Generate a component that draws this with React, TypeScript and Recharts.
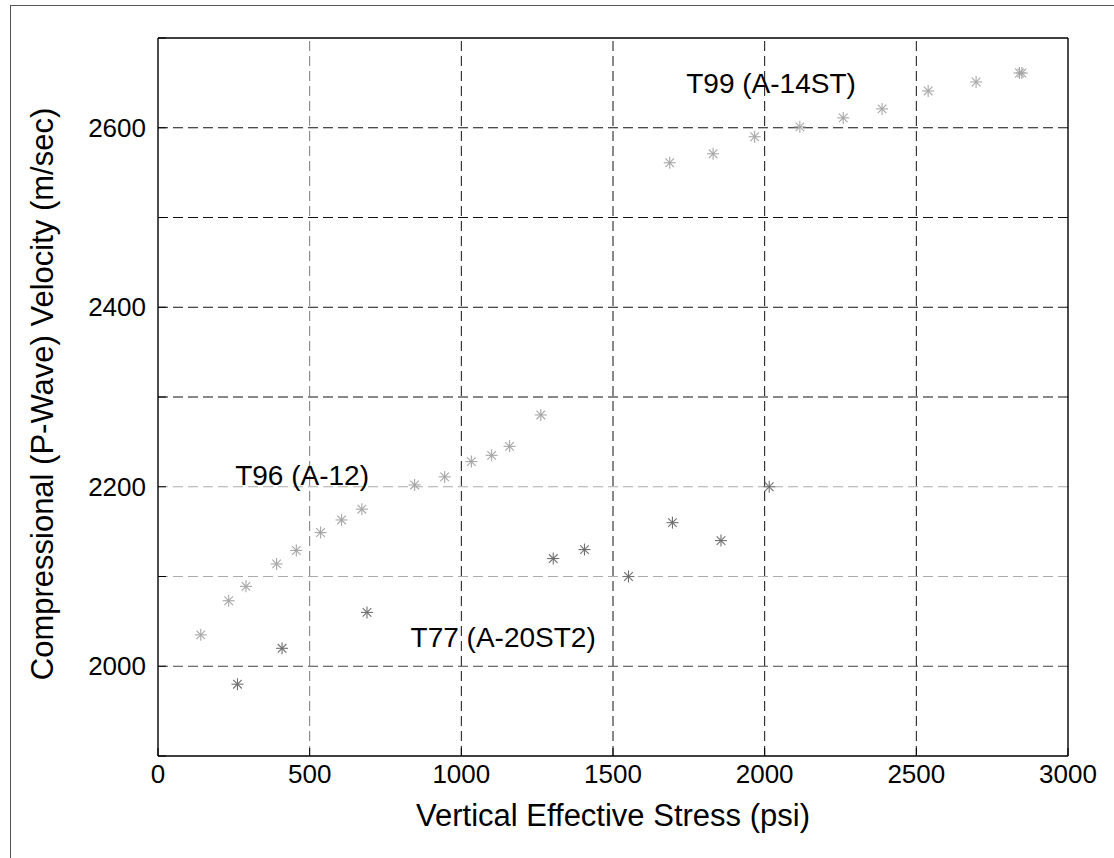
import React from 'react';
import {
    ScatterChart,
    Scatter,
    XAxis,
    YAxis,
    ReferenceLine,
    ReferenceDot,
} from 'recharts';

// T96 (A-12)
const t96Stress = [141, 233, 290, 391, 456, 536, 605, 672, 846, 945, 1033, 1100, 1159, 1262];
const t96Velocity = [2035, 2073, 2089, 2114, 2129, 2149, 2163, 2175, 2202, 2211, 2228, 2235, 2245, 2280];

// T77 (A-20ST2)
const t77Stress = [262, 409, 689, 1303, 1406, 1551, 1696, 1856, 2015];
const t77Velocity = [1980, 2020, 2060, 2120, 2130, 2100, 2160, 2140, 2200];

// T99 (A-14ST)
const t99Stress = [1687, 1830, 1967, 2116, 2259, 2387, 2539, 2697, 2840, 2848];
const t99Velocity = [2561, 2571, 2590, 2601, 2611, 2621, 2641, 2651, 2661, 2661];

const xTicks = [0, 500, 1000, 1500, 2000, 2500, 3000];
const yTicks = [1900, 2000, 2100, 2200, 2300, 2400, 2500, 2600, 2700];
const yLabelStep = 200;

const xGridLight = [500];
const xGridDark = [1000, 1500, 2000, 2500];
const yGridLight = [2100, 2200];
const yGridDark = [2000, 2300, 2400, 2500, 2600];

const FONT = '"Liberation Sans", Arial, Helvetica, sans-serif';
const LIGHT = '#a6a6a6';
const DARK = '#707070';

const toPoints = (xs: number[], ys: number[]) => xs.map((x, i) => ({ x, y: ys[i] }));

const Asterisk = (props: any) => {
    const { cx, cy, stroke } = props;
    if (cx == null || cy == null) return null;
    const r = 6;
    const d = 4.3;
    return (
        <g stroke={stroke} strokeWidth={1.1}>
            <line x1={cx - r} y1={cy} x2={cx + r} y2={cy} />
            <line x1={cx} y1={cy - r} x2={cx} y2={cy + r} />
            <line x1={cx - d} y1={cy - d} x2={cx + d} y2={cy + d} />
            <line x1={cx - d} y1={cy + d} x2={cx + d} y2={cy - d} />
        </g>
    );
};

const YTick = (props: any) => {
    const { x, y, payload } = props;
    if (payload.value % yLabelStep !== 0) return null;
    return (
        <text x={x} y={y} textAnchor="end" dominantBaseline="central" fontSize={26} fontFamily={FONT} fill="#000">
            {payload.value}
        </text>
    );
};

const YTitle = (props: any) => {
    const { viewBox } = props;
    const cy = viewBox.y + viewBox.height / 2 - 3;
    return (
        <text x={53} y={cy} transform={`rotate(-90 53 ${cy})`} textAnchor="middle" fontSize={31} fontFamily={FONT} fill="#000">
            Compressional (P-Wave) Velocity (m/sec)
        </text>
    );
};

const XTitle = (props: any) => {
    const { viewBox } = props;
    const cx = viewBox.x + viewBox.width / 2;
    return (
        <text x={cx} y={826} textAnchor="middle" fontSize={31} fontFamily={FONT} fill="#000">
            Vertical Effective Stress (psi)
        </text>
    );
};

const annotations = [
    { x: 2021, y: 2650, text: 'T99 (A-14ST)' },
    { x: 475, y: 2213, text: 'T96 (A-12)' },
    { x: 1138, y: 2033, text: 'T77 (A-20ST2)' },
];

export default function App() {
    const axisLine = { stroke: '#000', strokeWidth: 1.4 };
    const tickLine = { stroke: '#000', strokeWidth: 1 };
    return (
        <div style={{ position: 'absolute', left: 0, top: 0, width: 1114, height: 858, background: '#fff' }}>
            <div
                style={{
                    position: 'absolute',
                    left: 10,
                    top: 5,
                    width: 1104,
                    height: 853,
                    borderLeft: '1px solid #555',
                    borderTop: '1px solid #555',
                    boxSizing: 'border-box',
                }}
            />
            <ScatterChart width={1114} height={858} margin={{ top: 37, right: 45, left: 0, bottom: 0 }}>
                {xGridLight.map((v) => (
                    <ReferenceLine key={`xl-${v}`} x={v} stroke="#7a7a7a" strokeDasharray="10 5" />
                ))}
                {xGridDark.map((v) => (
                    <ReferenceLine key={`xd-${v}`} x={v} stroke="#111" strokeDasharray="10 5" />
                ))}
                {yGridLight.map((v) => (
                    <ReferenceLine key={`yl-${v}`} y={v} stroke="#ababab" strokeDasharray="10 5" />
                ))}
                {yGridDark.map((v) => (
                    <ReferenceLine key={`yd-${v}`} y={v} stroke={v === 2000 ? '#444' : '#111'} strokeDasharray="10 5" />
                ))}
                <XAxis
                    type="number"
                    dataKey="x"
                    domain={[0, 3000]}
                    ticks={xTicks}
                    height={102}
                    tickSize={-8}
                    tickMargin={17}
                    axisLine={axisLine}
                    tickLine={tickLine}
                    tick={{ fontSize: 26, fill: '#000', fontFamily: FONT }}
                    label={{ content: <XTitle /> }}
                />
                <XAxis
                    xAxisId="top"
                    orientation="top"
                    type="number"
                    domain={[0, 3000]}
                    ticks={xTicks}
                    height={1}
                    tickSize={-8}
                    axisLine={axisLine}
                    tickLine={tickLine}
                    tick={false}
                />
                <YAxis
                    type="number"
                    dataKey="y"
                    domain={[1900, 2700]}
                    ticks={yTicks}
                    width={158}
                    tickSize={-8}
                    tickMargin={20}
                    axisLine={axisLine}
                    tickLine={tickLine}
                    tick={<YTick />}
                    label={{ content: <YTitle /> }}
                />
                <YAxis
                    yAxisId="right"
                    orientation="right"
                    type="number"
                    domain={[1900, 2700]}
                    ticks={yTicks}
                    width={1}
                    tickSize={-8}
                    axisLine={axisLine}
                    tickLine={tickLine}
                    tick={false}
                />
                <Scatter
                    name="T96 (A-12)"
                    data={toPoints(t96Stress, t96Velocity)}
                    stroke={LIGHT}
                    shape={<Asterisk />}
                    isAnimationActive={false}
                />
                <Scatter
                    name="T99 (A-14ST)"
                    data={toPoints(t99Stress, t99Velocity)}
                    stroke={LIGHT}
                    shape={<Asterisk />}
                    isAnimationActive={false}
                />
                <Scatter
                    name="T77 (A-20ST2)"
                    data={toPoints(t77Stress, t77Velocity)}
                    stroke={DARK}
                    shape={<Asterisk />}
                    isAnimationActive={false}
                />
                {annotations.map((a) => (
                    <ReferenceDot
                        key={a.text}
                        x={a.x}
                        y={a.y}
                        r={1}
                        fill="none"
                        stroke="none"
                        label={{ value: a.text, position: 'center', fontSize: 28, fill: '#000', fontFamily: FONT }}
                    />
                ))}
            </ScatterChart>
        </div>
    );
}
